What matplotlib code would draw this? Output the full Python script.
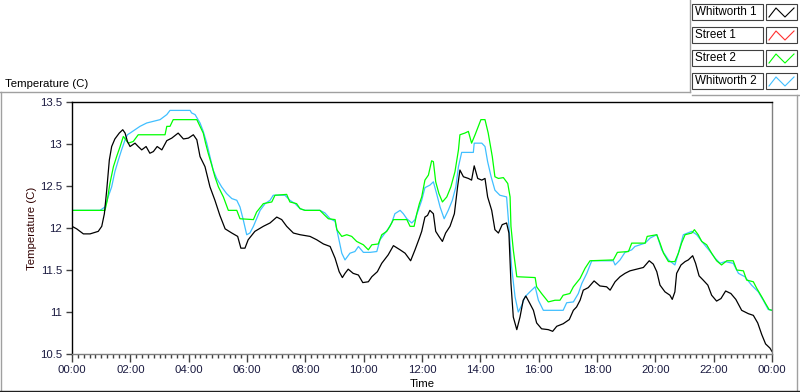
import matplotlib
matplotlib.use("Agg")
import matplotlib.pyplot as plt
from matplotlib.ticker import MultipleLocator, FuncFormatter

plt.rcParams["font.family"] = ["Liberation Sans", "DejaVu Sans"]

# time of day in hours, temperature in C
w1_hours = [0.00, 0.16, 0.39, 0.62, 0.90, 1.02, 1.11, 1.19, 1.28, 1.36, 1.47, 1.62, 1.74, 1.82,
            1.90, 1.99, 2.16, 2.27, 2.39, 2.54, 2.67, 2.79, 2.92, 3.08, 3.25, 3.42, 3.64, 3.82,
            3.99, 4.16, 4.28, 4.39, 4.56, 4.73, 4.90, 5.07, 5.25, 5.48, 5.68, 5.79, 5.93, 6.04,
            6.27, 6.56, 6.79, 7.02, 7.19, 7.36, 7.59, 7.82, 8.16, 8.39, 8.62, 8.85, 9.02, 9.16,
            9.27, 9.36, 9.47, 9.64, 9.82, 9.97, 10.16, 10.28, 10.47, 10.62, 10.84, 11.02, 11.25,
            11.42, 11.61, 11.76, 11.91, 11.99, 12.10, 12.19, 12.27, 12.39, 12.47, 12.58, 12.70,
            12.81, 12.96, 13.11, 13.22, 13.30, 13.42, 13.59, 13.70, 13.79, 13.91, 14.05, 14.16,
            14.25, 14.39, 14.50, 14.62, 14.75, 14.90, 14.98, 15.05, 15.13, 15.25, 15.36, 15.47,
            15.56, 15.70, 15.82, 15.93, 16.10, 16.33, 16.48, 16.62, 16.84, 17.05, 17.19, 17.30,
            17.42, 17.53, 17.70, 17.90, 18.10, 18.33, 18.45, 18.62, 18.79, 18.96, 19.13, 19.36,
            19.59, 19.79, 19.93, 20.05, 20.16, 20.33, 20.50, 20.58, 20.67, 20.73, 20.88, 21.02,
            21.13, 21.28, 21.38, 21.50, 21.64, 21.80, 21.93, 22.10, 22.25, 22.41, 22.59, 22.76,
            22.96, 23.19, 23.36, 23.51, 23.65, 23.78, 23.93, 24.00]
w1_temp = [12.02, 11.99, 11.93, 11.93, 11.96, 12.02, 12.17, 12.45, 12.81, 12.97, 13.06, 13.13, 13.17,
           13.13, 13.03, 12.97, 13.01, 12.97, 12.93, 12.97, 12.89, 12.91, 12.97, 12.93, 13.04, 13.07,
           13.13, 13.06, 13.07, 13.11, 13.05, 12.85, 12.73, 12.49, 12.33, 12.15, 11.99, 11.94, 11.90,
           11.76, 11.76, 11.86, 11.96, 12.02, 12.06, 12.13, 12.10, 12.02, 11.94, 11.92, 11.90, 11.86,
           11.81, 11.78, 11.64, 11.48, 11.41, 11.46, 11.51, 11.46, 11.44, 11.35, 11.36, 11.42, 11.48,
           11.58, 11.68, 11.79, 11.74, 11.70, 11.61, 11.74, 11.88, 11.96, 12.13, 12.15, 12.21, 12.17,
           11.96, 11.90, 11.84, 11.94, 12.02, 12.17, 12.49, 12.69, 12.61, 12.59, 12.57, 12.74, 12.59,
           12.57, 12.59, 12.37, 12.21, 11.98, 11.94, 12.04, 12.06, 11.94, 11.34, 10.94, 10.79, 10.94,
           11.14, 11.19, 11.10, 11.02, 10.87, 10.80, 10.79, 10.77, 10.83, 10.86, 10.91, 11.02, 11.06,
           11.14, 11.26, 11.29, 11.37, 11.31, 11.30, 11.26, 11.36, 11.42, 11.46, 11.49, 11.51, 11.53,
           11.61, 11.57, 11.48, 11.32, 11.24, 11.20, 11.15, 11.24, 11.46, 11.56, 11.60, 11.62, 11.67,
           11.58, 11.43, 11.38, 11.32, 11.20, 11.13, 11.16, 11.25, 11.22, 11.15, 11.02, 10.98, 10.96,
           10.87, 10.73, 10.62, 10.57, 10.53]

# Street 1 is in the legend but no red trace shows on the chart
s1_hours = []
s1_temp = []

s2_hours = [0.00, 1.13, 1.21, 1.30, 1.42, 1.53, 1.65, 1.76, 1.93, 2.10, 2.27, 3.19, 3.25, 3.36, 3.47,
            4.28, 4.39, 4.50, 4.58, 4.67, 4.79, 4.90, 5.02, 5.19, 5.36, 5.65, 5.76, 6.22, 6.33, 6.56,
            6.85, 6.96, 7.36, 7.47, 7.70, 7.82, 7.99, 8.50, 8.67, 8.79, 9.02, 9.08, 9.25, 9.42, 9.59,
            9.76, 9.99, 10.16, 10.28, 10.50, 10.62, 10.79, 10.90, 11.02, 11.48, 11.59, 11.73, 11.82,
            11.91, 11.99, 12.10, 12.22, 12.33, 12.39, 12.47, 12.58, 12.70, 12.85, 12.99, 13.13, 13.25,
            13.30, 13.47, 13.59, 13.70, 13.82, 13.93, 14.02, 14.16, 14.27, 14.41, 14.50, 14.62, 14.79,
            14.94, 15.02, 15.05, 15.13, 15.25, 15.88, 15.93, 16.10, 16.33, 16.56, 16.73, 16.84, 17.07,
            17.19, 17.42, 17.59, 17.76, 18.56, 18.70, 19.08, 19.19, 19.65, 19.72, 20.05, 20.16, 20.28,
            20.45, 20.67, 20.79, 20.90, 21.02, 21.25, 21.34, 21.47, 21.59, 21.76, 21.93, 22.10, 22.27,
            22.45, 22.67, 22.79, 23.02, 23.13, 23.36, 23.48, 23.65, 23.78, 23.90, 24.00]
s2_temp = [12.21, 12.21, 12.33, 12.53, 12.73, 12.85, 12.97, 13.09, 13.01, 13.03, 13.11, 13.11, 13.21,
           13.21, 13.29, 13.29, 13.21, 13.13, 13.01, 12.89, 12.75, 12.61, 12.49, 12.37, 12.21, 12.21,
           12.11, 12.10, 12.19, 12.29, 12.31, 12.39, 12.40, 12.31, 12.29, 12.23, 12.21, 12.21, 12.15,
           12.11, 12.10, 11.98, 11.90, 11.92, 11.90, 11.84, 11.80, 11.74, 11.80, 11.81, 11.92, 11.96,
           12.02, 12.10, 12.10, 12.02, 12.02, 12.17, 12.29, 12.37, 12.57, 12.63, 12.80, 12.79, 12.55,
           12.41, 12.31, 12.37, 12.49, 12.67, 12.93, 13.11, 13.13, 13.15, 13.01, 13.11, 13.21, 13.29,
           13.29, 13.13, 12.85, 12.61, 12.59, 12.60, 12.53, 12.37, 12.02, 11.74, 11.42, 11.41, 11.30,
           11.22, 11.12, 11.14, 11.14, 11.20, 11.22, 11.30, 11.40, 11.52, 11.61, 11.62, 11.71, 11.72,
           11.82, 11.82, 11.90, 11.92, 11.82, 11.70, 11.60, 11.60, 11.70, 11.82, 11.92, 11.94, 11.98,
           11.92, 11.84, 11.80, 11.70, 11.61, 11.56, 11.61, 11.61, 11.50, 11.49, 11.38, 11.36, 11.28,
           11.18, 11.10, 11.03, 11.02]

w2_hours = [0.00, 0.96, 1.13, 1.24, 1.36, 1.47, 1.59, 1.70, 1.82, 1.90, 1.99, 2.16, 2.33, 2.56, 2.79,
            3.02, 3.25, 3.36, 4.05, 4.10, 4.22, 4.39, 4.50, 4.62, 4.73, 4.84, 4.96, 5.13, 5.30, 5.48,
            5.65, 5.76, 5.87, 5.99, 6.10, 6.22, 6.33, 6.45, 6.62, 6.79, 6.90, 7.30, 7.47, 7.65, 7.82,
            7.99, 8.50, 8.67, 8.85, 9.02, 9.13, 9.25, 9.36, 9.53, 9.70, 9.82, 9.99, 10.22, 10.45,
            10.56, 10.73, 10.84, 10.96, 11.07, 11.25, 11.36, 11.48, 11.65, 11.76, 11.87, 11.99, 12.10,
            12.27, 12.39, 12.50, 12.62, 12.76, 12.90, 13.04, 13.16, 13.25, 13.36, 13.76, 13.79, 14.05,
            14.16, 14.25, 14.37, 14.50, 14.67, 14.90, 14.98, 15.07, 15.19, 15.30, 15.42, 15.53, 15.70,
            15.88, 15.99, 16.16, 16.84, 16.96, 17.19, 17.36, 17.48, 17.65, 17.82, 18.56, 18.62, 18.79,
            18.96, 19.19, 19.30, 19.65, 19.82, 20.05, 20.22, 20.45, 20.67, 20.79, 20.96, 21.25, 21.42,
            21.64, 21.88, 22.05, 22.22, 22.39, 22.67, 22.85, 23.07, 23.30, 23.53, 23.70, 23.87, 24.00]
w2_temp = [12.21, 12.21, 12.25, 12.37, 12.49, 12.67, 12.81, 12.93, 13.05, 13.11, 13.13, 13.17, 13.21,
           13.25, 13.27, 13.29, 13.35, 13.40, 13.40, 13.37, 13.35, 13.25, 13.15, 13.01, 12.85, 12.69,
           12.59, 12.49, 12.41, 12.35, 12.33, 12.25, 12.10, 11.92, 11.94, 12.02, 12.11, 12.21, 12.29,
           12.33, 12.39, 12.39, 12.33, 12.29, 12.23, 12.21, 12.21, 12.18, 12.11, 12.08, 11.90, 11.70,
           11.62, 11.70, 11.72, 11.78, 11.71, 11.71, 11.72, 11.86, 11.94, 11.99, 12.06, 12.17, 12.21,
           12.17, 12.11, 12.06, 12.10, 12.21, 12.33, 12.48, 12.51, 12.55, 12.41, 12.25, 12.11, 12.21,
           12.33, 12.49, 12.73, 12.90, 12.90, 13.01, 13.01, 12.97, 12.79, 12.61, 12.45, 12.39, 12.37,
           12.02, 11.54, 11.18, 11.00, 11.08, 11.18, 11.24, 11.30, 11.14, 11.02, 11.02, 11.11, 11.12,
           11.22, 11.34, 11.46, 11.61, 11.61, 11.56, 11.62, 11.71, 11.74, 11.78, 11.82, 11.88, 11.92,
           11.74, 11.62, 11.56, 11.70, 11.92, 11.96, 11.92, 11.82, 11.72, 11.64, 11.58, 11.60, 11.58,
           11.46, 11.42, 11.32, 11.24, 11.14, 11.03, 11.02]

series_names = ["Whitworth 1", "Street 1", "Street 2", "Whitworth 2"]
series_colors = ["#000000", "#ff3030", "#00ff00", "#40bfff"]

W, H = 800, 392
fig = plt.figure(figsize=(W / 100, H / 100), dpi=100)
fig.patch.set_facecolor("white")

# overlay in pixel coordinates for panel frame and legend boxes
deco = fig.add_axes([0, 0, 1, 1], zorder=0)
deco.set_xlim(0, W)
deco.set_ylim(H, 0)
deco.axis("off")
deco.plot([0, 690], [92, 92], color="#a0a0a0", lw=1)
deco.plot([690, 690], [0, 92], color="#a0a0a0", lw=1)
deco.plot([692, 800], [95, 95], color="#a0a0a0", lw=1)
deco.plot([1, 1], [92, 391], color="#a0a0a0", lw=1)
deco.plot([797, 797], [95, 391], color="#a0a0a0", lw=1)
deco.plot([0, 800], [390.5, 390.5], color="#202020", lw=1)
deco.text(5, 84, "Temperature (C)", fontsize=8.2, va="center", ha="left", color="black")

for i, (name, col) in enumerate(zip(series_names, series_colors)):
    top = 4 + i * 23
    deco.add_patch(plt.Rectangle((692, top), 71, 16, fill=False, ec="#404040", lw=0.8))
    deco.text(695, top + 8, name, fontsize=8.4, va="center", ha="left")
    deco.add_patch(plt.Rectangle((766, top), 31, 16, fill=False, ec="#404040", lw=0.8))
    deco.plot([769, 776, 785, 794], [top + 13, top + 4, top + 13, top + 4], color=col, lw=0.8)

ax = fig.add_axes([72 / W, 1 - 354 / H, 700 / W, 252 / H], zorder=1)
ax.plot(w2_hours, w2_temp, color=series_colors[3], lw=0.9)
ax.plot(s1_hours, s1_temp, color=series_colors[1], lw=0.9)
ax.plot(s2_hours, s2_temp, color=series_colors[2], lw=0.9)
ax.plot(w1_hours, w1_temp, color=series_colors[0], lw=0.9)

ax.set_xlim(0, 24)
ax.set_ylim(10.5, 13.5)
ax.xaxis.set_major_locator(MultipleLocator(2))
ax.xaxis.set_minor_locator(MultipleLocator(0.2))
ax.xaxis.set_major_formatter(FuncFormatter(lambda v, p: "%02d:00" % (int(round(v)) % 24)))
ax.yaxis.set_major_locator(MultipleLocator(0.5))
ax.yaxis.set_major_formatter(FuncFormatter(lambda v, p: "%g" % v))

for side in ["top", "left"]:
    ax.spines[side].set_color("black")
for side in ["bottom", "right"]:
    ax.spines[side].set_color("#808080")
for s in ax.spines.values():
    s.set_linewidth(1)

ax.tick_params(axis="x", which="major", length=6, width=1, color="#404040",
               labelsize=8.2, labelcolor="#1a1a40", pad=2)
ax.tick_params(axis="x", which="minor", length=3, width=1, color="#404040")
ax.tick_params(axis="y", which="major", length=4, width=1, color="#404040",
               labelsize=8.2, labelcolor="#1a1a40", pad=3)

ax.set_xlabel("Time", fontsize=8.2, labelpad=3)
ax.set_ylabel("Temperature (C)", fontsize=8.2, labelpad=2, color="#300000")

fig.savefig("out.png", dpi=100)
